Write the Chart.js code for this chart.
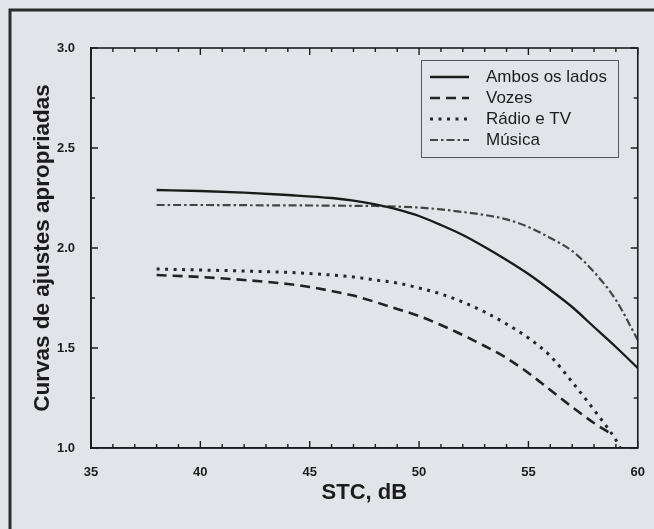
<!DOCTYPE html>
<html>
<head>
<meta charset="utf-8">
<script src="https://cdn.jsdelivr.net/npm/chart.js@4"></script>
<style>
    html, body { margin: 0; padding: 0; background: #e4e5eb; }
    canvas { display: block; }
</style>
</head>
<body>
<canvas id="stc-chart" width="654" height="529"></canvas>
<script>
// Data
var seriesLabels = ['Ambos os lados', 'Vozes', 'Rádio e TV', 'Música'];
var xTicks = [35, 40, 45, 50, 55, 60];
var yTicks = [1.0, 1.5, 2.0, 2.5, 3.0];

var stcFull = [38, 40, 42, 44, 46, 47, 48, 49, 50, 51, 52, 53, 54, 55, 56, 57, 58, 59, 60];
var ambos = [2.29, 2.285, 2.277, 2.265, 2.25, 2.237, 2.218, 2.193, 2.16, 2.115, 2.065, 2.005, 1.94, 1.87, 1.79, 1.705, 1.605, 1.505, 1.40];
var musica = [2.215, 2.215, 2.214, 2.213, 2.212, 2.211, 2.21, 2.207, 2.202, 2.193, 2.18, 2.165, 2.143, 2.105, 2.05, 1.985, 1.88, 1.74, 1.54];

var stcVozes = [38, 40, 42, 44, 45, 46, 47, 48, 49, 50, 51, 52, 53, 54, 55, 56, 57, 58, 58.8];
var vozes = [1.865, 1.855, 1.84, 1.82, 1.805, 1.785, 1.762, 1.73, 1.695, 1.66, 1.615, 1.565, 1.51, 1.45, 1.375, 1.29, 1.205, 1.125, 1.07];

var stcRadio = [38, 40, 42, 44, 45, 46, 47, 48, 49, 50, 51, 52, 53, 54, 55, 56, 57, 58, 59, 59.2];
var radio = [1.895, 1.89, 1.885, 1.878, 1.872, 1.865, 1.855, 1.84, 1.825, 1.8, 1.77, 1.73, 1.68, 1.62, 1.55, 1.46, 1.33, 1.19, 1.04, 1.0];

function toPoints(xs, ys) {
    return xs.map(function (x, i) { return { x: x, y: ys[i] }; });
}

var FONT = "'Liberation Sans', Arial, sans-serif";
var INK = '#1c1c1c';

// page background and the scanned frame
var pagePlugin = {
    id: 'page',
    beforeDraw: function (chart) {
        var c = chart.ctx;
        c.save();
        c.fillStyle = '#e3e4ea';
        c.fillRect(0, 0, chart.width, chart.height);
        c.strokeStyle = '#2b2b2b';
        c.lineWidth = 3;
        c.beginPath();
        c.moveTo(10, chart.height + 5);
        c.lineTo(10, 10);
        c.lineTo(chart.width + 5, 10);
        c.stroke();
        c.restore();
    }
};

// box around the plot with ticks pointing inward
var frameTicks = {
    id: 'frameTicks',
    afterDatasetsDraw: function (chart) {
        var a = chart.chartArea, c = chart.ctx;
        var sx = chart.scales.x, sy = chart.scales.y;
        c.save();
        c.strokeStyle = INK;
        c.lineWidth = 1.6;
        c.strokeRect(a.left, a.top, a.right - a.left, a.bottom - a.top);
        c.lineWidth = 1.4;
        c.beginPath();
        for (var v = 35; v <= 60; v++) {
            var px = sx.getPixelForValue(v);
            var len = v % 5 === 0 ? 7 : 4;
            c.moveTo(px, a.bottom); c.lineTo(px, a.bottom - len);
            c.moveTo(px, a.top); c.lineTo(px, a.top + len);
        }
        for (var k = 0; k <= 8; k++) {
            var val = 1 + k * 0.25;
            var py = sy.getPixelForValue(val);
            var l = k % 2 === 0 ? 7 : 4;
            c.moveTo(a.left, py); c.lineTo(a.left + l, py);
            c.moveTo(a.right, py); c.lineTo(a.right - l, py);
        }
        c.stroke();
        c.restore();
    }
};

// legend box in the upper right corner of the plot
var boxLegend = {
    id: 'boxLegend',
    afterDraw: function (chart) {
        var c = chart.ctx;
        var x0 = 421, y0 = 60, w = 197, h = 97;
        c.save();
        c.strokeStyle = '#555';
        c.lineWidth = 1;
        c.strokeRect(x0 + 0.5, y0 + 0.5, w, h);
        c.font = '17px ' + FONT;
        c.textBaseline = 'middle';
        chart.data.datasets.forEach(function (ds, i) {
            var y = y0 + 17 + i * 21;
            c.strokeStyle = ds.borderColor;
            c.lineWidth = ds.borderWidth;
            c.setLineDash(ds.borderDash || []);
            c.beginPath();
            c.moveTo(430, y);
            c.lineTo(469, y);
            c.stroke();
            c.setLineDash([]);
            c.fillStyle = INK;
            c.fillText(ds.label, 486, y);
        });
        c.restore();
    }
};

var ctx = document.getElementById('stc-chart').getContext('2d');
var stcChart = new Chart(ctx, {
    type: 'line',
    data: {
        datasets: [
            {
                label: seriesLabels[0],
                data: toPoints(stcFull, ambos),
                borderColor: '#1a1a1a',
                borderWidth: 2.3,
            },
            {
                label: seriesLabels[1],
                data: toPoints(stcVozes, vozes),
                borderColor: '#222',
                borderWidth: 2.6,
                borderDash: [10, 6],
            },
            {
                label: seriesLabels[2],
                data: toPoints(stcRadio, radio),
                borderColor: '#262626',
                borderWidth: 3,
                borderDash: [3, 5.5],
            },
            {
                label: seriesLabels[3],
                data: toPoints(stcFull, musica),
                borderColor: '#444',
                borderWidth: 2.2,
                borderDash: [8, 3, 2.5, 3],
            },
        ],
    },
    options: {
        responsive: false,
        animation: false,
        cubicInterpolationMode: 'monotone',
        elements: { point: { radius: 0 }, line: { fill: false } },
        layout: { padding: { left: 10, top: 48, right: 16, bottom: 0 } },
        plugins: {
            legend: { display: false },
            tooltip: { enabled: false },
        },
        scales: {
            x: {
                type: 'linear',
                min: xTicks[0],
                max: xTicks[xTicks.length - 1],
                afterFit: function (s) { s.height = 81; },
                afterBuildTicks: function (s) {
                    s.ticks = xTicks.map(function (v) { return { value: v }; });
                },
                grid: { display: false },
                border: { display: true, color: INK, width: 1.6 },
                ticks: {
                    padding: 9,
                    maxRotation: 0,
                    color: INK,
                    font: { family: FONT, size: 13, weight: 'bold' },
                },
                title: {
                    display: true,
                    text: 'STC, dB',
                    color: INK,
                    font: { family: FONT, size: 22, weight: 'bold' },
                    padding: { top: 0, bottom: 23 },
                },
            },
            y: {
                min: yTicks[0],
                max: yTicks[yTicks.length - 1],
                afterFit: function (s) { s.width = 81; },
                afterBuildTicks: function (s) {
                    s.ticks = yTicks.map(function (v) { return { value: v }; });
                },
                grid: { display: false },
                border: { display: true, color: INK, width: 1.6 },
                ticks: {
                    padding: 8,
                    color: INK,
                    font: { family: FONT, size: 13, weight: 'bold' },
                    callback: function (v) { return v.toFixed(1); },
                },
                title: {
                    display: true,
                    text: 'Curvas de ajustes apropriadas',
                    color: INK,
                    font: { family: FONT, size: 22.5, weight: 'bold' },
                    padding: { top: 19, bottom: 0 },
                },
            },
        },
    },
    plugins: [pagePlugin, frameTicks, boxLegend],
});
</script>
</body>
</html>
